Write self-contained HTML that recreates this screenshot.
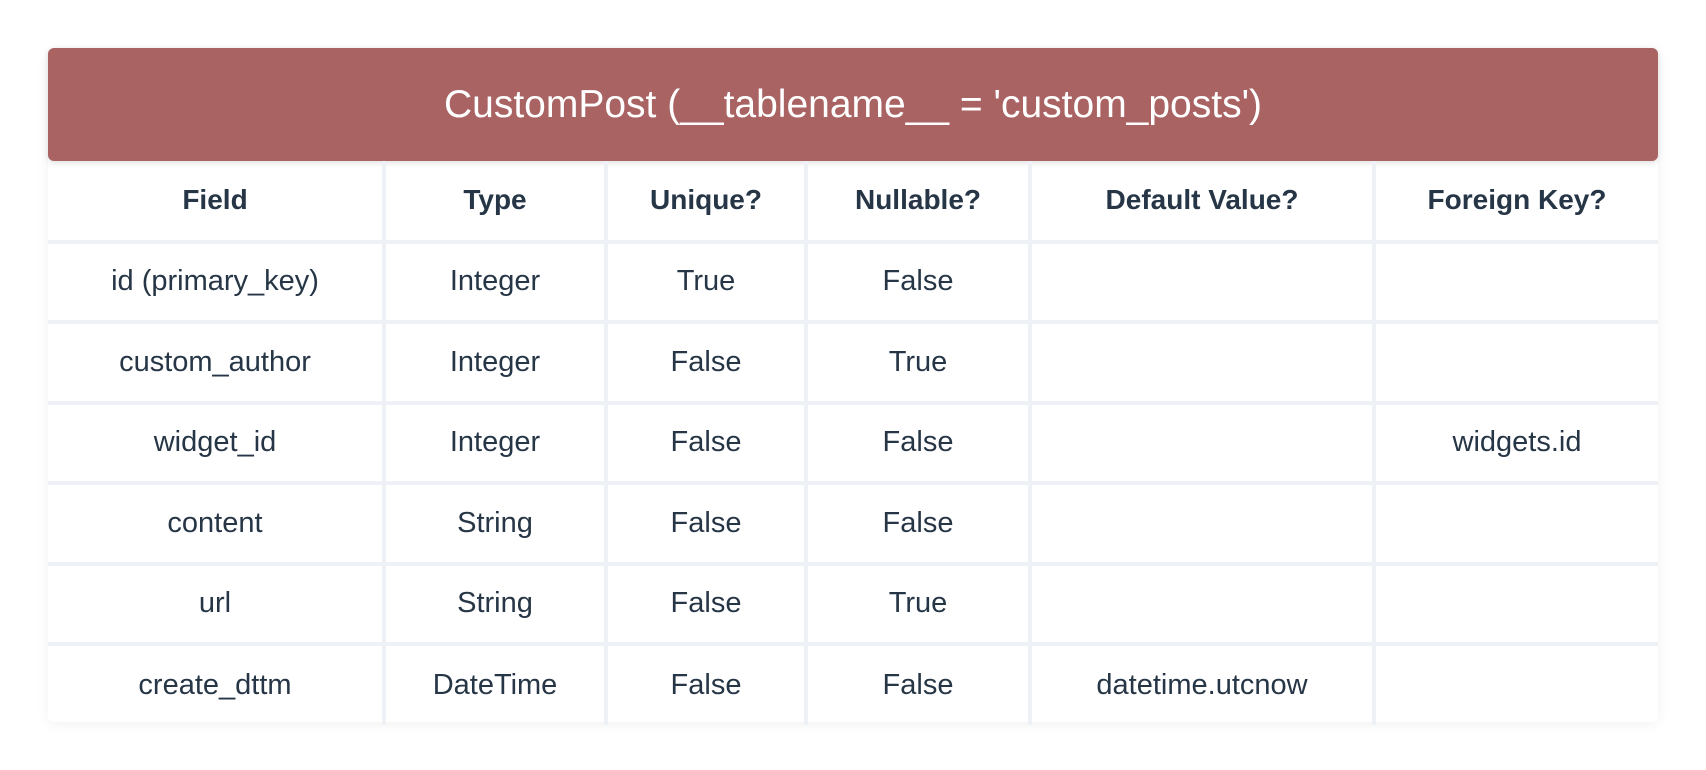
<!DOCTYPE html>
<html><head><style>
body{margin:0;width:1706px;height:770px;background:#fff;font-family:"Liberation Sans",sans-serif;position:relative;overflow:hidden}
.card{position:absolute;left:48px;top:48px;width:1610px;height:674px;box-shadow:0 2px 14px rgba(0,0,0,0.06);border-radius:6px}
.hdr{position:absolute;left:48px;top:48px;width:1610px;height:113px;background:#a96362;border-radius:6px;color:#fff;font-size:39px;text-align:center;line-height:113px;box-shadow:0 2px 6px rgba(0,0,0,0.12)}
table{position:absolute;left:48px;top:161px;width:1610px;border-collapse:collapse;table-layout:fixed}
td{height:80.5px;padding:0;text-align:center;color:#263646;font-size:29px;border:4px solid #eef1f6;box-sizing:border-box}
tr:first-child td{font-weight:bold;font-size:28px;border-top:none}
td:first-child{border-left:none}td:last-child{border-right:none}
tr:last-child td{border-bottom:none}
</style></head><body>
<div class="card"></div>
<div class="hdr">CustomPost (__tablename__ = 'custom_posts')</div>
<table>
<colgroup><col style="width:336px"><col style="width:222px"><col style="width:200px"><col style="width:224px"><col style="width:344px"><col style="width:284px"></colgroup>
<tr><td>Field</td><td>Type</td><td>Unique?</td><td>Nullable?</td><td>Default Value?</td><td>Foreign Key?</td></tr>
<tr><td>id (primary_key)</td><td>Integer</td><td>True</td><td>False</td><td></td><td></td></tr>
<tr><td>custom_author</td><td>Integer</td><td>False</td><td>True</td><td></td><td></td></tr>
<tr><td>widget_id</td><td>Integer</td><td>False</td><td>False</td><td></td><td>widgets.id</td></tr>
<tr><td>content</td><td>String</td><td>False</td><td>False</td><td></td><td></td></tr>
<tr><td>url</td><td>String</td><td>False</td><td>True</td><td></td><td></td></tr>
<tr><td>create_dttm</td><td>DateTime</td><td>False</td><td>False</td><td>datetime.utcnow</td><td></td></tr>
</table>
</body></html>
